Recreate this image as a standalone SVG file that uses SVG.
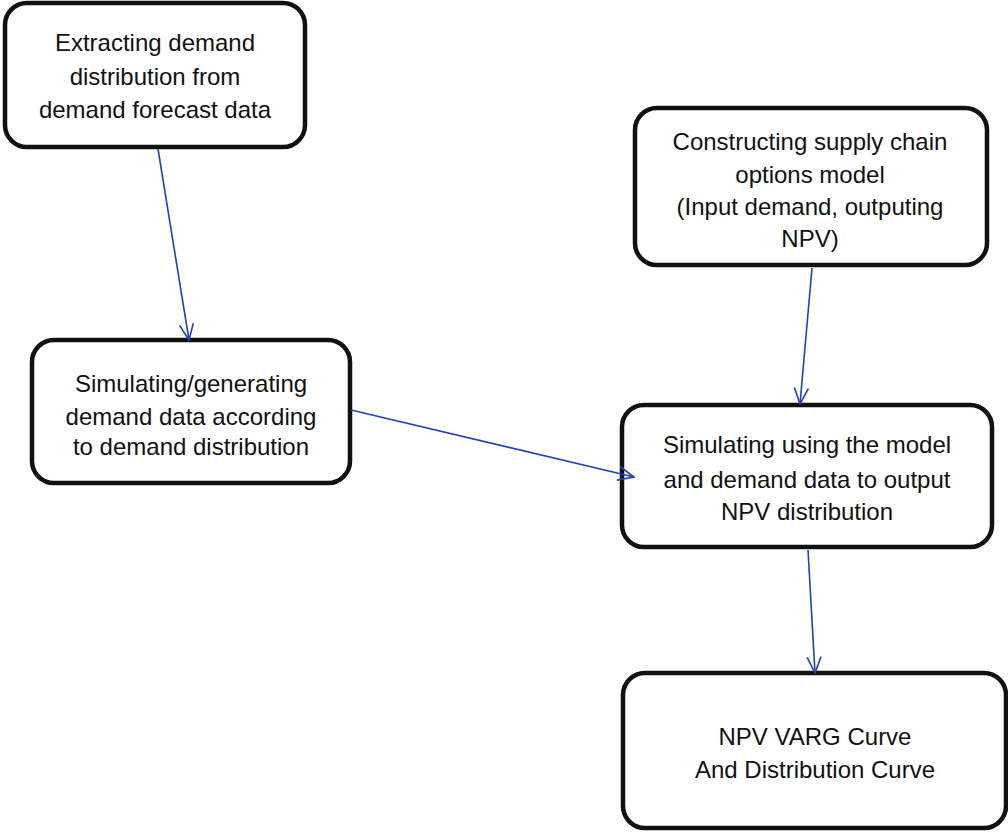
<svg xmlns="http://www.w3.org/2000/svg" width="1008" height="833" viewBox="0 0 1008 833">
<style>
.box{fill:#fff;stroke:#111;stroke-width:4.5}
.t{font-family:"Liberation Sans",Arial,sans-serif;font-size:24px;fill:#111;text-anchor:middle}
.c{stroke:#2040c0;stroke-width:1.6;fill:none}
</style>
<defs>
<marker id="ah" viewBox="0 0 20 20" refX="19" refY="10" markerWidth="20" markerHeight="20" markerUnits="userSpaceOnUse" orient="auto">
<path d="M3,3 L19,10 L3,17" fill="none" stroke="#2040c0" stroke-width="1.6"/>
</marker>
</defs>
<rect width="1008" height="833" fill="#fff"/>
<g id="n1">
<rect class="box" x="5" y="3" width="300" height="144" rx="22"/>
<text class="t" x="155" y="51">Extracting demand</text>
<text class="t" x="155" y="85">distribution from</text>
<text class="t" x="155" y="118">demand forecast data</text>
</g>
<g id="n2">
<rect class="box" x="635" y="108" width="352" height="157" rx="22"/>
<text class="t" x="810" y="150">Constructing supply chain</text>
<text class="t" x="810" y="183">options model</text>
<text class="t" x="810" y="215">(Input demand, outputing</text>
<text class="t" x="810" y="247">NPV)</text>
</g>
<g id="n3">
<rect class="box" x="32" y="340" width="318" height="143" rx="22"/>
<text class="t" x="191" y="392">Simulating/generating</text>
<text class="t" x="191" y="425">demand data according</text>
<text class="t" x="191" y="455">to demand distribution</text>
</g>
<g id="n4">
<rect class="box" x="622" y="405" width="370" height="142" rx="22"/>
<text class="t" x="807" y="453">Simulating using the model</text>
<text class="t" x="807" y="488">and demand data to output</text>
<text class="t" x="807" y="520">NPV distribution</text>
</g>
<g id="n5">
<rect class="box" x="623" y="673" width="383" height="155" rx="22"/>
<text class="t" x="815" y="745">NPV VARG Curve</text>
<text class="t" x="815" y="778">And Distribution Curve</text>
</g>
<g id="connectors">
<line class="c" x1="158" y1="149" x2="189" y2="340" marker-end="url(#ah)"/>
<line class="c" x1="812" y1="268" x2="800" y2="404" marker-end="url(#ah)"/>
<line class="c" x1="351" y1="410" x2="634" y2="477" marker-end="url(#ah)"/>
<line class="c" x1="808" y1="550" x2="815" y2="673" marker-end="url(#ah)"/>
</g>
</svg>
